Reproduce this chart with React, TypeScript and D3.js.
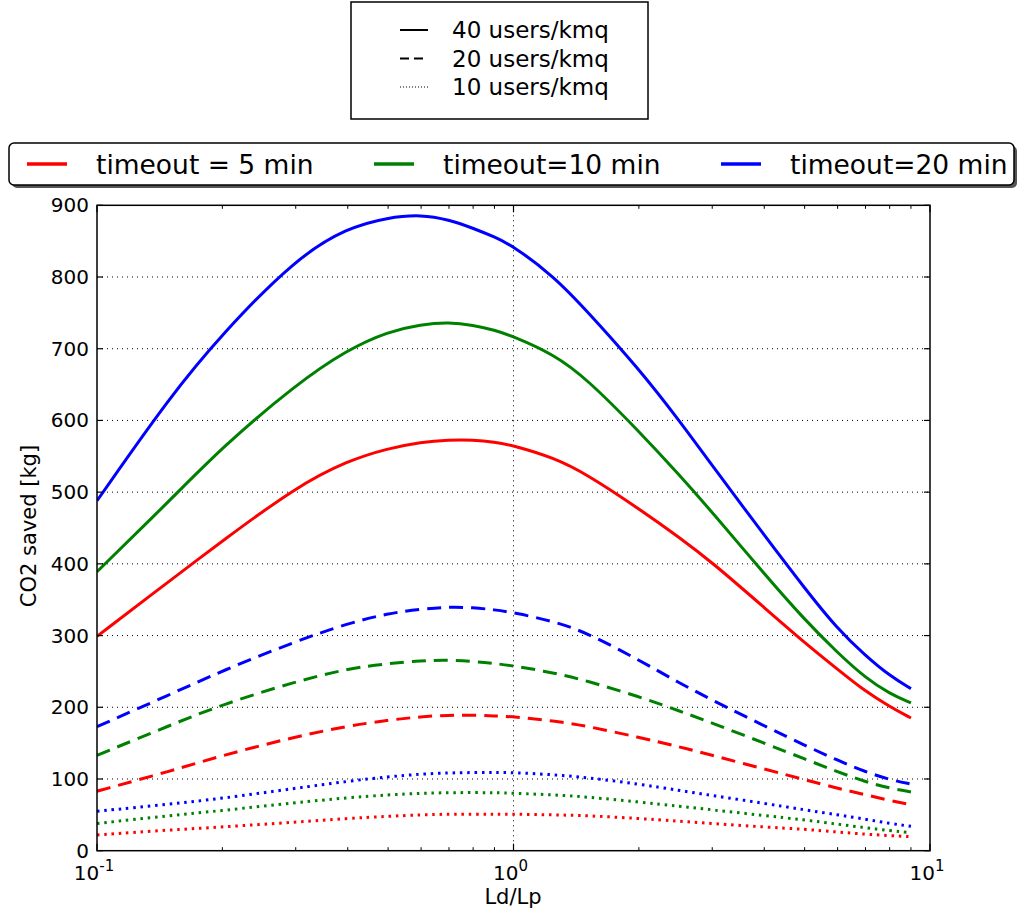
import React from "react";
import * as d3 from "d3";

const ldlp = [0.1, 0.15, 0.2, 0.3, 0.4, 0.5, 0.6, 0.7, 0.8, 0.9, 1, 1.25, 1.5, 2, 2.5, 3, 4, 5, 6, 7, 8, 9];

const red40 = [299, 377, 432, 507, 544, 561, 570, 573, 573, 570, 565, 548, 525, 477, 437, 402, 339, 290, 253, 222, 201, 185];
const green40 = [389, 489, 563, 650, 699, 724, 734, 737, 733, 726, 717, 692, 658, 585, 524, 472, 386, 322, 276, 241, 219, 206];
const blue40 = [488, 634, 721, 826, 869, 883, 887, 880, 868, 856, 843, 801, 753, 672, 600, 537, 440, 366, 309, 272, 244, 226];

const red20 = [83, 111, 133, 159, 174, 182, 187, 189, 189, 188, 187, 181, 174, 158, 145, 133, 114, 99, 87, 78, 70, 64];
const green20 = [133, 175, 204, 236, 254, 261, 265, 266, 264, 261, 258, 248, 237, 215, 195, 178, 150, 128, 110, 96, 87, 82];
const blue20 = [173, 218, 251, 292, 317, 331, 337, 340, 339, 336, 332, 320, 304, 266, 234, 210, 174, 147, 126, 110, 99, 93];

const red10 = [22, 29, 33, 40, 45, 48, 50, 51, 51, 51, 51, 50, 49, 45, 41, 38, 33, 30, 26, 23, 21, 19.5];
const green10 = [38, 49, 56, 67, 74, 78, 80, 81, 81, 81, 80, 78, 75, 68, 62, 57, 49, 43, 37, 32, 28, 25];
const blue10 = [55, 65, 73, 87, 97, 103, 107, 108.5, 109, 109, 109, 106, 102, 93, 84, 77, 66, 57, 50, 44, 38, 34];

const yTicks = [0, 100, 200, 300, 400, 500, 600, 700, 800, 900];
const xMajor = [0.1, 1, 10];
const xMajorExp = ["-1", "0", "1"];
const timeoutLabels = ["timeout = 5 min", "timeout=10 min", "timeout=20 min"];
const densityLabels = ["40 users/kmq", "20 users/kmq", "10 users/kmq"];
const colors = ["#ff0000", "#008000", "#0000ff"];

const series = [
  { values: red40, color: 0, style: 0 },
  { values: red20, color: 0, style: 1 },
  { values: red10, color: 0, style: 2 },
  { values: green40, color: 1, style: 0 },
  { values: green20, color: 1, style: 1 },
  { values: green10, color: 1, style: 2 },
  { values: blue40, color: 2, style: 0 },
  { values: blue20, color: 2, style: 1 },
  { values: blue10, color: 2, style: 2 },
];

const dashes = ["none", "14,8", "2.5,4.8"];
const legendDashes = ["none", "9,5", "1,2"];

const FONT = "'DejaVu Sans', sans-serif";

export default function App() {
  const left = 97, right = 930, top = 205.3, bottom = 850.7;
  const x = d3.scaleLog().domain([0.1, 10]).range([left, right]);
  const y = d3.scaleLinear().domain([0, 900]).range([bottom, top]);
  const line = d3
    .line<[number, number]>()
    .x((d) => x(d[0]))
    .y((d) => y(d[1]))
    .curve(d3.curveBasis);

  const minor: number[] = [];
  [0.1, 1].forEach((b) => {
    for (let k = 2; k <= 9; k++) minor.push(b * k);
  });

  return (
    <svg
      width={1018}
      height={921}
      style={{ position: "absolute", left: 0, top: 0, background: "#fff" }}
      fontFamily={FONT}
    >
      <rect x={0} y={0} width={1018} height={921} fill="#fff" />
      <defs>
        <clipPath id="plotclip">
          <rect x={left} y={top} width={right - left} height={bottom - top} />
        </clipPath>
      </defs>

      {/* grid */}
      {yTicks.slice(1, -1).map((t) => (
        <line key={"gy" + t} x1={left} x2={right} y1={y(t)} y2={y(t)} stroke="#000" strokeWidth={1} strokeDasharray="1,4" />
      ))}
      <line x1={x(1)} x2={x(1)} y1={top} y2={bottom} stroke="#000" strokeWidth={1} strokeDasharray="1,4" />

      {/* series */}
      <g clipPath="url(#plotclip)">
        {series.map((s, i) => (
          <path
            key={i}
            d={line(ldlp.map((v, j) => [v, s.values[j]] as [number, number])) || ""}
            fill="none"
            stroke={colors[s.color]}
            strokeWidth={3}
            strokeDasharray={dashes[s.style]}
            strokeLinecap="butt"
            strokeLinejoin="round"
          />
        ))}
      </g>

      {/* ticks */}
      {yTicks.map((t) => (
        <g key={"yt" + t}>
          <line x1={left} x2={left + 6} y1={y(t)} y2={y(t)} stroke="#000" strokeWidth={1.2} />
          <line x1={right - 6} x2={right} y1={y(t)} y2={y(t)} stroke="#000" strokeWidth={1.2} />
          <text x={left - 8} y={y(t)} textAnchor="end" dominantBaseline="central" fontSize={20}>
            {t}
          </text>
        </g>
      ))}
      {xMajor.map((t, i) => (
        <g key={"xt" + t}>
          <line x1={x(t)} x2={x(t)} y1={bottom} y2={bottom - 7} stroke="#000" strokeWidth={1.2} />
          <line x1={x(t)} x2={x(t)} y1={top} y2={top + 7} stroke="#000" strokeWidth={1.2} />
          <text x={x(t) - 3} y={880} textAnchor="middle" fontSize={20}>
            10
            <tspan dy={-9} fontSize={15}>
              {xMajorExp[i]}
            </tspan>
          </text>
        </g>
      ))}
      {minor.map((t) => (
        <g key={"mt" + t}>
          <line x1={x(t)} x2={x(t)} y1={bottom} y2={bottom - 3.5} stroke="#000" strokeWidth={1} />
          <line x1={x(t)} x2={x(t)} y1={top} y2={top + 3.5} stroke="#000" strokeWidth={1} />
        </g>
      ))}

      {/* frame */}
      <rect x={left} y={top} width={right - left} height={bottom - top} fill="none" stroke="#000" strokeWidth={1.5} />

      {/* axis labels */}
      <text x={513} y={904} textAnchor="middle" fontSize={21}>
        Ld/Lp
      </text>
      <text transform={`translate(29,526) rotate(-90)`} textAnchor="middle" dominantBaseline="central" fontSize={21}>
        CO2 saved [kg]
      </text>

      {/* legend: density */}
      <rect x={351} y={2} width={297} height={117} fill="#fff" stroke="#000" strokeWidth={1.5} />
      {densityLabels.map((lab, i) => {
        const cy = 30 + i * 28.5;
        return (
          <g key={"dl" + i}>
            <line x1={400} x2={428} y1={cy} y2={cy} stroke="#000" strokeWidth={i === 2 ? 1 : 2} strokeDasharray={legendDashes[i]} />
            <text x={452} y={cy} dominantBaseline="central" fontSize={23}>
              {lab}
            </text>
          </g>
        );
      })}

      {/* legend: timeout */}
      <rect x={12} y={146} width={1005} height={42} rx={5} fill="#555" />
      <rect x={9} y={143} width={1005} height={42} rx={5} fill="#fff" stroke="#000" strokeWidth={1.5} />
      {timeoutLabels.map((lab, i) => {
        const lx = [27, 374, 721][i];
        const tx = [96, 443, 790][i];
        return (
          <g key={"tl" + i}>
            <line x1={lx} x2={lx + 40} y1={164} y2={164} stroke={colors[i]} strokeWidth={3.5} />
            <text x={tx} y={164} dominantBaseline="central" fontSize={26.5}>
              {lab}
            </text>
          </g>
        );
      })}
    </svg>
  );
}
